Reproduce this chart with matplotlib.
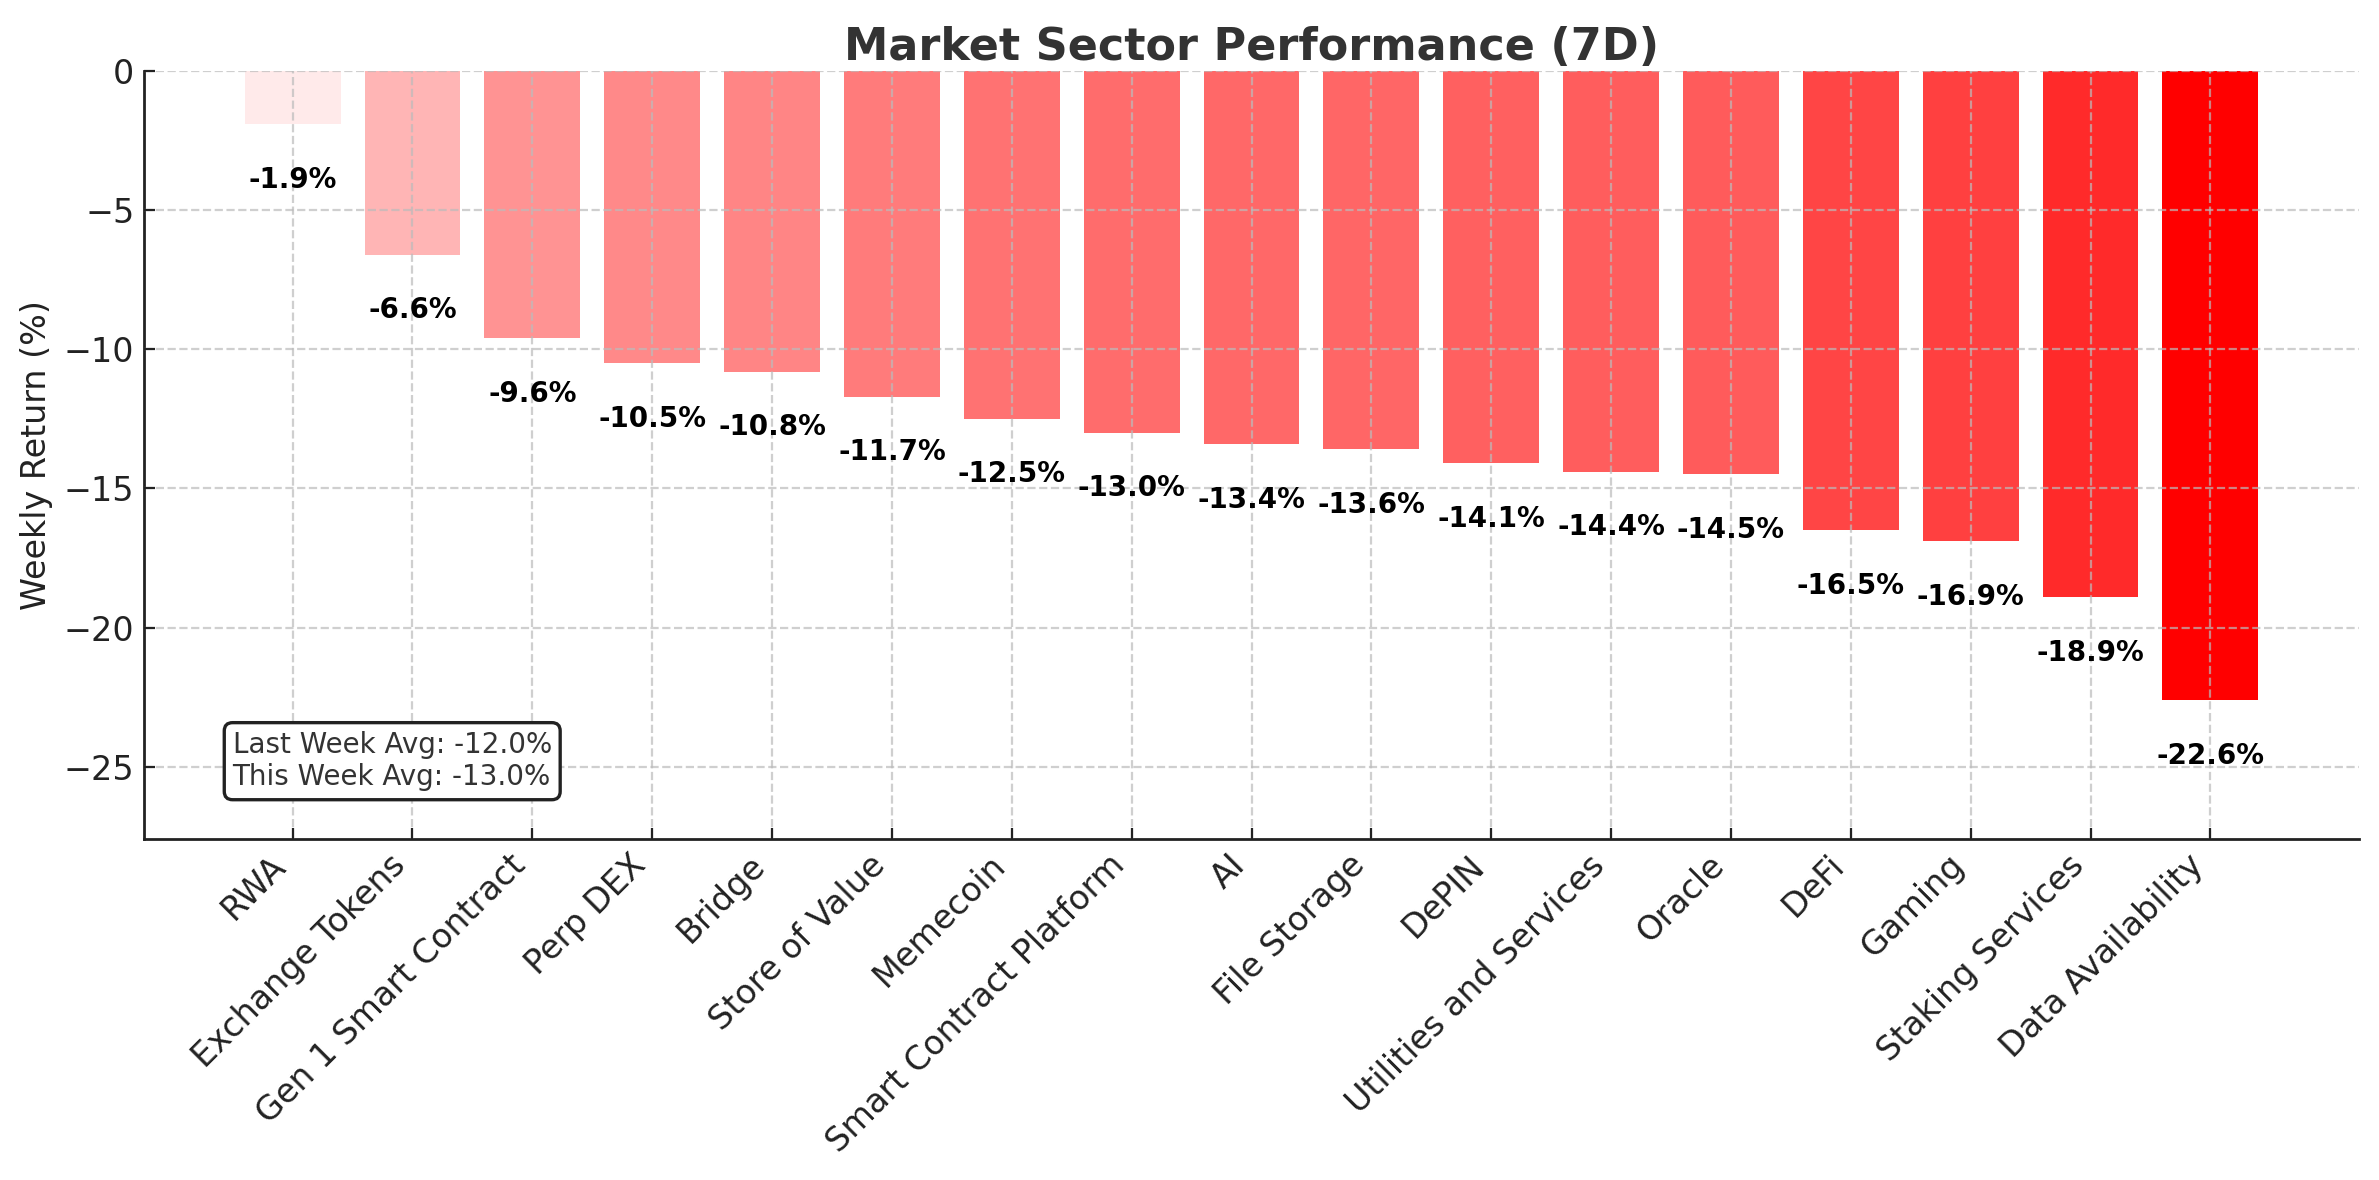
import matplotlib
matplotlib.use("Agg")
import matplotlib.pyplot as plt
import numpy as np

categories = ["RWA", "Exchange Tokens", "Gen 1 Smart Contract", "Perp DEX", "Bridge",
              "Store of Value", "Memecoin", "Smart Contract Platform", "AI", "File Storage",
              "DePIN", "Utilities and Services", "Oracle", "DeFi", "Gaming",
              "Staking Services", "Data Availability"]
weekly_returns = [-1.9, -6.6, -9.6, -10.5, -10.8, -11.7, -12.5, -13.0, -13.4, -13.6,
                  -14.1, -14.4, -14.5, -16.5, -16.9, -18.9, -22.6]
last_week_avg = -12.0
this_week_avg = -13.0

plt.rcParams['font.family'] = ['DejaVu Sans']
text_color = '#333333'
tick_color = '#222222'

fig = plt.figure(figsize=(2379/200, 1180/200), dpi=200)
ax = fig.add_axes([144/2379, 1 - 839/1180, (2359-144)/2379, (839-71)/1180])

vals = np.array(weekly_returns)
mx = np.max(np.abs(vals))
colors = [(1.0, 0.0, 0.0, abs(v)/mx) for v in vals]
x = np.arange(len(categories))
ax.bar(x, vals, color=colors, width=0.8, zorder=1)

for xi, v in zip(x, vals):
    ax.text(xi, v - 2, f"{v:.1f}%", ha='center', va='center', fontsize=10,
            fontweight='bold', color='black', zorder=4)

ax.set_ylim(vals.min() - 5, 0)
ax.set_xticks(x)
ax.set_xticklabels(categories, rotation=45, ha='right', rotation_mode='default',
                   fontsize=12, color=tick_color)
ax.tick_params(axis='y', labelsize=12, labelcolor=tick_color)
ax.tick_params(direction='in', color='#222222', length=4)
ax.set_ylabel("Weekly Return (%)", fontsize=12, color=tick_color)
ax.set_title("Market Sector Performance (7D)", fontsize=16, fontweight='bold',
             color=text_color, pad=4)

for s in ['top', 'right']:
    ax.spines[s].set_visible(False)
for s in ['left', 'bottom']:
    ax.spines[s].set_color('#222222')
    ax.spines[s].set_linewidth(1.0)

ax.set_axisbelow(False)
ax.grid(True, linestyle='--', color='#bbbbbb', alpha=0.7, linewidth=0.8, zorder=3)

ax.text(0.04, 0.062,
        f"Last Week Avg: {last_week_avg:.1f}%\nThis Week Avg: {this_week_avg:.1f}%",
        transform=ax.transAxes, fontsize=10, color=text_color, ha='left', va='bottom',
        bbox=dict(boxstyle='round,pad=0.3', facecolor='white', edgecolor='#222222',
                  linewidth=1.2), zorder=5)

fig.savefig("out.png", dpi=200)
